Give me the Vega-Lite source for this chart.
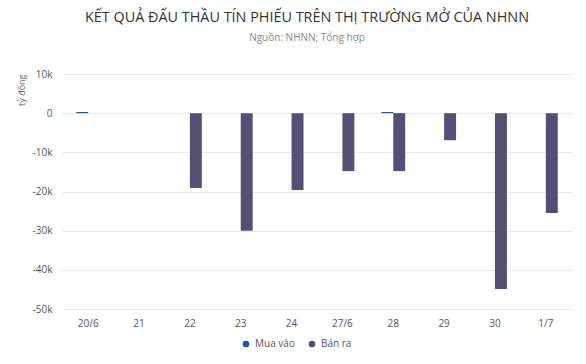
{
  "$schema": "https://vega.github.io/schema/vega-lite/v6.json",
  "width": 510,
  "height": 235,
  "autosize": {"type": "none"},
  "padding": {"left": 62, "top": 74, "right": 14, "bottom": 55},
  "background": "white",
  "title": {
    "text": "KẾT QUẢ ĐẤU THẦU TÍN PHIẾU TRÊN THỊ TRƯỜNG MỞ CỦA NHNN",
    "subtitle": "Nguồn: NHNN; Tổng hợp",
    "anchor": "middle",
    "dx": -10,
    "offset": 25,
    "font": "Open Sans",
    "fontSize": 14.4,
    "fontWeight": 500,
    "color": "#333333",
    "subtitleFont": "Open Sans",
    "subtitleFontSize": 10,
    "subtitleColor": "#888888",
    "subtitlePadding": 8
  },
  "data": {
    "values": [
      {"date": "20/6", "type": "Mua vào", "value": 300},
      {"date": "20/6", "type": "Bán ra", "value": 0},
      {"date": "21", "type": "Mua vào", "value": 0},
      {"date": "21", "type": "Bán ra", "value": 0},
      {"date": "22", "type": "Mua vào", "value": 0},
      {"date": "22", "type": "Bán ra", "value": -19100},
      {"date": "23", "type": "Mua vào", "value": 0},
      {"date": "23", "type": "Bán ra", "value": -30000},
      {"date": "24", "type": "Mua vào", "value": 0},
      {"date": "24", "type": "Bán ra", "value": -19600},
      {"date": "27/6", "type": "Mua vào", "value": 0},
      {"date": "27/6", "type": "Bán ra", "value": -14800},
      {"date": "28", "type": "Mua vào", "value": 300},
      {"date": "28", "type": "Bán ra", "value": -14800},
      {"date": "29", "type": "Mua vào", "value": 0},
      {"date": "29", "type": "Bán ra", "value": -6900},
      {"date": "30", "type": "Mua vào", "value": 0},
      {"date": "30", "type": "Bán ra", "value": -44900},
      {"date": "1/7", "type": "Mua vào", "value": 0},
      {"date": "1/7", "type": "Bán ra", "value": -25500}
    ]
  },
  "mark": {"type": "bar"},
  "encoding": {
    "x": {
      "field": "date",
      "type": "nominal",
      "sort": null,
      "scale": {"paddingInner": 0.53, "paddingOuter": 0.28},
      "axis": {
        "title": null,
        "labelAngle": 0,
        "domain": false,
        "ticks": false,
        "labelFont": "Open Sans",
        "labelFontSize": 10,
        "labelColor": "#555555",
        "labelPadding": 9
      }
    },
    "xOffset": {
      "field": "type",
      "type": "nominal",
      "sort": ["Mua vào", "Bán ra"]
    },
    "y": {
      "field": "value",
      "type": "quantitative",
      "scale": {"domain": [-50000, 10000], "nice": false},
      "axis": {
        "title": "tỷ đồng",
        "titleFont": "Open Sans",
        "titleFontSize": 9,
        "titleFontWeight": "normal",
        "titleColor": "#666666",
        "titleAngle": -90,
        "titleAlign": "right",
        "titleBaseline": "bottom",
        "titleX": -36,
        "titleY": 0,
        "values": [-50000, -40000, -30000, -20000, -10000, 0, 10000],
        "labelExpr": "datum.value == 0 ? '0' : (datum.value / 1000) + 'k'",
        "labelFont": "Open Sans",
        "labelFontSize": 10,
        "labelColor": "#555555",
        "labelPadding": 10,
        "domain": false,
        "ticks": false,
        "grid": true,
        "gridColor": "#e8e8e8"
      }
    },
    "color": {
      "field": "type",
      "type": "nominal",
      "sort": ["Mua vào", "Bán ra"],
      "scale": {"domain": ["Mua vào", "Bán ra"], "range": ["#2356a3", "#544f74"]},
      "legend": {
        "title": null,
        "orient": "none",
        "direction": "horizontal",
        "legendX": 179,
        "legendY": 265,
        "symbolType": "circle",
        "symbolSize": 45,
        "labelFont": "Open Sans",
        "labelFontSize": 10,
        "labelColor": "#555555",
        "columnPadding": 12
      }
    }
  },
  "config": {
    "view": {"stroke": null}
  }
}
